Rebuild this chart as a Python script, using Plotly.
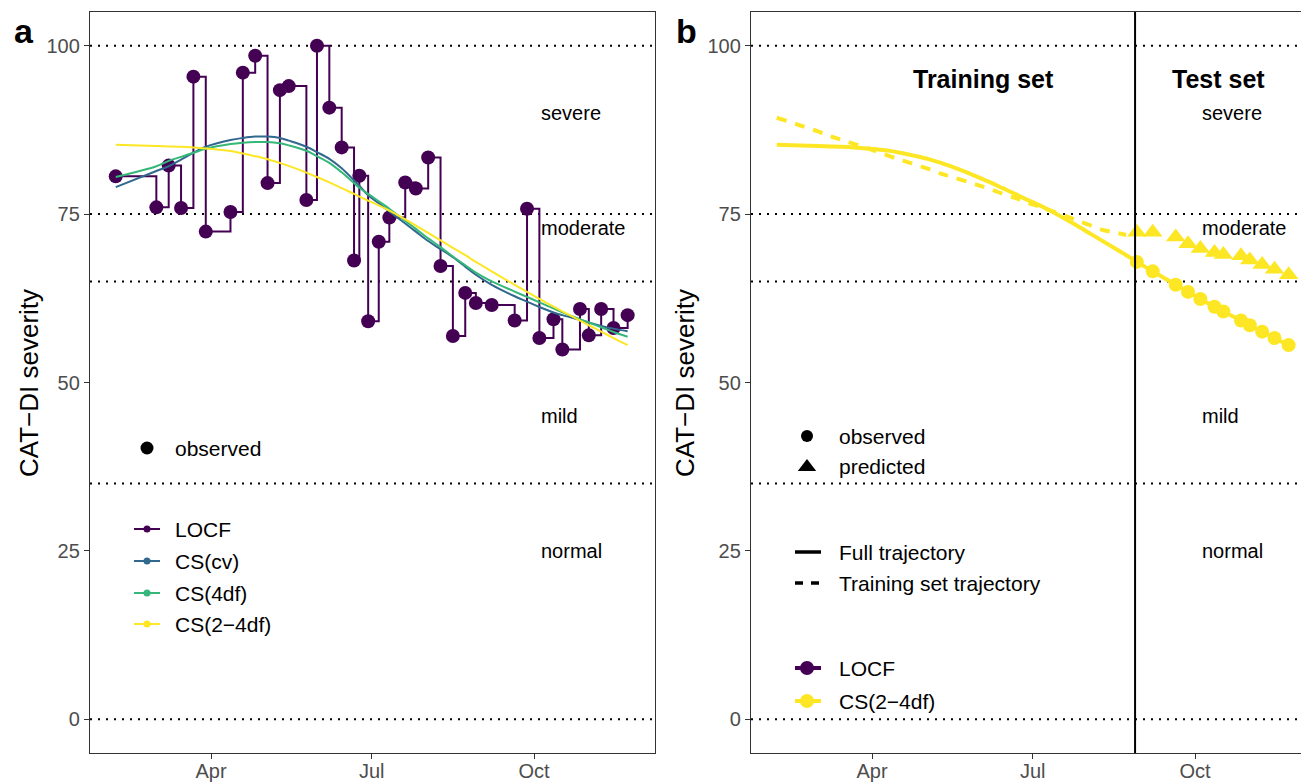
import plotly.graph_objects as go

# ---------------- data ----------------
obs_dates = ["2019-02-06", "2019-03-01", "2019-03-08", "2019-03-15", "2019-03-22", "2019-03-29",
             "2019-04-12", "2019-04-19", "2019-04-26", "2019-05-03", "2019-05-10", "2019-05-15",
             "2019-05-25", "2019-05-31", "2019-06-07", "2019-06-14", "2019-06-21", "2019-06-24",
             "2019-06-29", "2019-07-05", "2019-07-11", "2019-07-20", "2019-07-26", "2019-08-02",
             "2019-08-09", "2019-08-16", "2019-08-23", "2019-08-29", "2019-09-07", "2019-09-20",
             "2019-09-27", "2019-10-04", "2019-10-12", "2019-10-17", "2019-10-27", "2019-11-01",
             "2019-11-08", "2019-11-15", "2019-11-23"]
locf_vals = [80.6, 76.0, 82.2, 75.9, 95.4, 72.4, 75.3, 96.0, 98.5, 79.6, 93.4, 94.0,
             77.1, 100.0, 90.8, 84.9, 68.1, 80.7, 59.1, 70.9, 74.5, 79.7, 78.8, 83.4,
             67.3, 56.9, 63.3, 61.8, 61.5, 59.2, 75.8, 56.6, 59.4, 54.9, 60.9, 57.0,
             60.9, 58.1, 60.0]
cs_cv = [79.0, 81.4, 82.1, 83.1, 84.1, 85.0, 86.0, 86.3, 86.5, 86.5, 86.3, 85.9,
         85.0, 84.2, 83.2, 81.8, 80.0, 79.2, 77.8, 76.6, 75.4, 73.6, 72.4, 71.0,
         69.8, 68.6, 67.2, 66.0, 64.5, 62.8, 62.0, 61.2, 60.4, 60.0, 59.3, 58.9,
         58.4, 58.0, 57.6]
cs_4df = [80.5, 82.1, 82.9, 83.5, 84.1, 84.7, 85.4, 85.6, 85.7, 85.7, 85.5, 85.2,
          84.4, 83.6, 82.6, 81.2, 79.6, 78.9, 78.0, 76.9, 75.8, 74.0, 72.8, 71.4,
          70.1, 68.7, 67.4, 66.3, 65.0, 63.5, 62.7, 61.9, 61.0, 60.4, 59.4, 58.9,
          58.2, 57.5, 56.8]
cs_24df = [85.3, 85.1, 85.05, 85.0, 84.9, 84.75, 84.35, 84.0, 83.6, 83.15, 82.6, 82.15,
           81.15, 80.5, 79.7, 78.85, 78.0, 77.6, 77.0, 76.3, 75.5, 74.2, 73.3, 72.2,
           71.1, 70.0, 68.9, 67.9, 66.5, 64.5, 63.45, 62.4, 61.25, 60.55, 59.2, 58.5,
           57.55, 56.6, 55.55]
n_train = 27  # observations before the test split
train_traj = [89.3, 87.3, 86.6, 86.0, 85.4, 84.8, 83.5, 82.9, 82.3, 81.7, 81.0, 80.6,
              79.8, 79.3, 78.7, 78.0, 77.4, 77.1, 76.6, 76.1, 75.5, 74.7, 74.1, 73.4,
              72.7, 72.3, 71.9]
predicted = [72.3, 72.3, 71.6, 70.6, 69.9, 69.3, 69.0, 68.8, 68.2, 67.5, 66.8, 66.0]
split_date = "2019-08-28"

cutoffs = [0, 35, 65, 75, 100]
severity_labels = ["severe", "moderate", "mild", "normal"]
severity_label_y = [90, 73, 45, 25]
label_date = "2019-10-04"
month_ticks = ["2019-04-01", "2019-07-01", "2019-10-01"]
month_labels = ["Apr", "Jul", "Oct"]
y_ticks = [0, 25, 50, 75, 100]

PURPLE, BLUE, GREEN, YELLOW = "#440154", "#31688E", "#35B779", "#FDE725"
W, H = 1301, 784
FONT = "Liberation Sans"

fig = go.Figure()

# ---------------- panel a ----------------
fig.add_trace(go.Scatter(x=obs_dates, y=locf_vals, mode="lines", line=dict(color=PURPLE, width=2, shape="hv"),
                         xaxis="x", yaxis="y"))
fig.add_trace(go.Scatter(x=obs_dates, y=locf_vals, mode="markers", marker=dict(color=PURPLE, size=14),
                         xaxis="x", yaxis="y"))
for vals, col in [(cs_cv, BLUE), (cs_4df, GREEN), (cs_24df, YELLOW)]:
    fig.add_trace(go.Scatter(x=obs_dates, y=vals, mode="lines", line=dict(color=col, width=2, shape="spline", smoothing=1.0),
                             xaxis="x", yaxis="y"))

# ---------------- panel b ----------------
fig.add_trace(go.Scatter(x=obs_dates[:n_train], y=train_traj, mode="lines",
                         line=dict(color=YELLOW, width=4, dash="10px,9px", shape="spline"),
                         xaxis="x2", yaxis="y2"))
fig.add_trace(go.Scatter(x=obs_dates, y=cs_24df, mode="lines",
                         line=dict(color=YELLOW, width=4, shape="spline", smoothing=1.0),
                         xaxis="x2", yaxis="y2"))
fig.add_trace(go.Scatter(x=obs_dates[n_train:], y=cs_24df[n_train:], mode="markers",
                         marker=dict(color=YELLOW, size=14, symbol="circle"), xaxis="x2", yaxis="y2"))
fig.add_trace(go.Scatter(x=obs_dates[n_train:], y=predicted, mode="markers",
                         marker=dict(color=YELLOW, size=17, symbol="triangle-up"), xaxis="x2", yaxis="y2"))

# ---------------- legend keys (pixel overlay axes) ----------------
def px(xs, ys, **kw):
    fig.add_trace(go.Scatter(x=xs, y=ys, xaxis="x3", yaxis="y3", **kw))

px([147], [448], mode="markers", marker=dict(color="black", size=13))
for yy, col in zip([529, 561, 593, 624], [PURPLE, BLUE, GREEN, YELLOW]):
    px([134, 160], [yy, yy], mode="lines", line=dict(color=col, width=2))
    px([147], [yy], mode="markers", marker=dict(color=col, size=7))
px([807], [436], mode="markers", marker=dict(color="black", size=12))
px([807], [467], mode="markers", marker=dict(color="black", size=16, symbol="triangle-up"))
px([795, 821], [552, 552], mode="lines", line=dict(color="black", width=3.5))
px([795, 803], [583, 583], mode="lines", line=dict(color="black", width=3.5))
px([811, 819], [583, 583], mode="lines", line=dict(color="black", width=3.5))
for yy, col in zip([668, 701], [PURPLE, YELLOW]):
    px([795, 821], [yy, yy], mode="lines", line=dict(color=col, width=4))
    px([807], [yy], mode="markers", marker=dict(color=col, size=14))

legend_texts = [(173, 448, "observed"), (173, 529, "LOCF"), (173, 561, "CS(cv)"), (173, 593, "CS(4df)"),
                (173, 624, "CS(2\u22124df)"), (837, 436, "observed"), (837, 466, "predicted"),
                (837, 552, "Full trajectory"), (837, 583, "Training set trajectory"),
                (837, 668, "LOCF"), (837, 701, "CS(2\u22124df)")]
annotations = []
for x0, y0, t in legend_texts:
    annotations.append(dict(x=x0, y=y0, xref="x3", yref="y3", text=t, showarrow=False, xanchor="left",
                            yanchor="middle", font=dict(size=21, color="black", family=FONT)))

# ---------------- shapes ----------------
shapes = []
for xa, ya in [("x", "y"), ("x2", "y2")]:
    for c in cutoffs:
        shapes.append(dict(type="line", xref=f"{xa} domain", yref=ya, x0=0, x1=1, y0=c, y1=c,
                           line=dict(color="black", width=2, dash="2px,6px"), layer="below"))
shapes.append(dict(type="line", xref="x2", yref="y2 domain", x0=split_date, x1=split_date, y0=0, y1=1,
                   line=dict(color="black", width=2)))

for xa, ya in [("x", "y"), ("x2", "y2")]:
    for t, yy in zip(severity_labels, severity_label_y):
        annotations.append(dict(x=label_date, y=yy, xref=xa, yref=ya, text=t, showarrow=False,
                                xanchor="left", yanchor="middle", font=dict(size=20, color="black", family=FONT)))

annotations.append(dict(x="2019-06-03", y=95, xref="x2", yref="y2", text="<b>Training set</b>", showarrow=False,
                        xanchor="center", yanchor="middle", font=dict(size=25, color="black", family=FONT)))
annotations.append(dict(x="2019-10-14", y=95, xref="x2", yref="y2", text="<b>Test set</b>", showarrow=False,
                        xanchor="center", yanchor="middle", font=dict(size=25, color="black", family=FONT)))
for xp, lab in [(24, "a"), (686, "b")]:
    annotations.append(dict(x=xp, y=31, xref="x3", yref="y3", text=f"<b>{lab}</b>", showarrow=False,
                            xanchor="center", yanchor="middle", font=dict(size=34, color="black", family=FONT)))
for xp in [29, 685]:
    annotations.append(dict(x=xp, y=383, xref="x3", yref="y3", text="CAT\u2212DI severity", showarrow=False,
                            textangle=-90, xanchor="center", yanchor="middle",
                            font=dict(size=26, color="black", family=FONT)))

ydom = [1 - 753 / H, 1 - 12 / H]
common_x = dict(type="date", tickmode="array", tickvals=month_ticks, ticktext=month_labels, ticks="outside",
                ticklen=5, tickwidth=1.2, tickcolor="#333333", showline=True, linecolor="#333333", linewidth=1.3,
                mirror=True, showgrid=False, zeroline=False, tickfont=dict(size=20, color="#4D4D4D", family=FONT),
                automargin=False, ticklabelstandoff=-5)
common_y = dict(range=[-5, 105], tickmode="array", tickvals=y_ticks, ticks="outside", ticklen=5, tickwidth=1.2,
                tickcolor="#333333", showline=True, linecolor="#333333", linewidth=1.3, showgrid=False,
                zeroline=False, tickfont=dict(size=20, color="#4D4D4D", family=FONT), automargin=False, domain=ydom)

fig.update_layout(
    width=W, height=H, margin=dict(l=0, r=0, t=0, b=0), showlegend=False,
    plot_bgcolor="rgba(0,0,0,0)", paper_bgcolor="white", font=dict(family=FONT),
    xaxis=dict(common_x, domain=[90 / W, 655 / W], range=["2019-01-22 10:00", "2019-12-08 12:00"], anchor="y"),
    yaxis=dict(common_y, anchor="x", mirror=True),
    xaxis2=dict(common_x, domain=[751 / W, 1.0], range=["2019-01-22 10:00", "2019-11-30 00:00"], anchor="y2"),
    yaxis2=dict(common_y, anchor="x2", mirror=False),
    xaxis3=dict(domain=[0, 1], range=[0, W], visible=False, anchor="y3", fixedrange=True),
    yaxis3=dict(domain=[0, 1], range=[H, 0], visible=False, anchor="x3", fixedrange=True),
    shapes=shapes, annotations=annotations,
)

fig.write_html("out.html")
